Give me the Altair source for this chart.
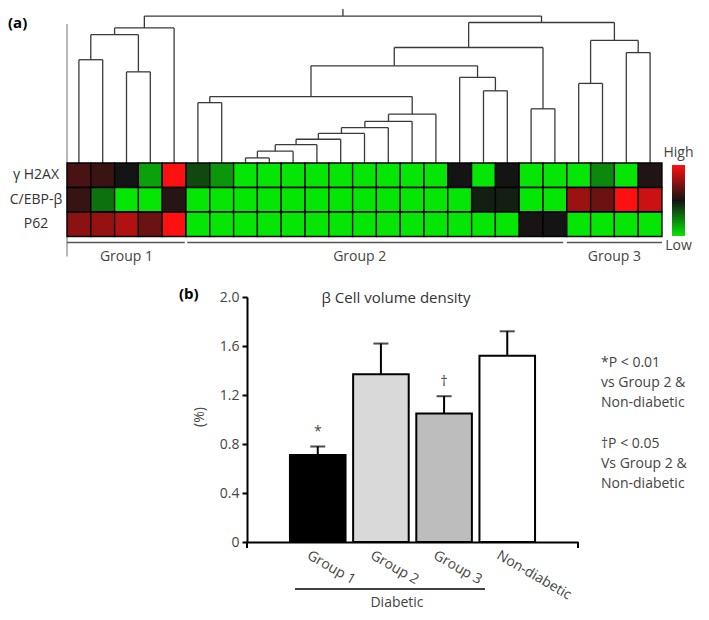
import altair as alt
import pandas as pd

FONT = "Open Sans"
TXT = "#333333"

# ---------------- Panel (a): heat map + dendrogram ----------------
rows = ["γ H2AX", "C/EBP-β", "P62"]
# relative expression per column (-1 = low/green, 0 = black, 1 = high/red)
h2ax = [0.23, 0.16, 0.0, -0.67, 1.0, -0.25, -0.62,
        -1, -1, -1, -1, -1, -1, -1, -1, -1,
        0.0, -1, 0.0, -1, -1, -1, -0.55, -1, 0.05]
cebp = [0.15, -0.45, -1, -1, 0.08,
        -1, -1, -1, -1, -1, -1, -1, -1, -1, -1, -1, -1,
        -0.05, -0.05, -1, -1, 0.58, 0.38, 1.0, 0.78]
p62 = [0.5, 0.55, 0.67, 0.38, 1.0,
       -1, -1, -1, -1, -1, -1, -1, -1, -1, -1, -1, -1, -1, -1,
       0.02, 0.0, -1, -1, -1, -1]
n_cols = 25

groups = ["Group 1", "Group 2", "Group 3"]
group_start = [0.0, 5.05, 21.0]
group_end = [4.95, 20.85, 25.0]
group_label_pos = [2.5, 12.3, 23.0]

# dendrogram merges (children are column indices or earlier nodes)
merge_node = ["A", "B", "C", "D", "E", "F", "G", "H", "I", "J", "K", "L",
              "M", "N", "O", "P", "Q", "R", "S", "T1", "T2", "T3", "T4", "root"]
merge_left = [7, "A", "B", "C", "D", "E", "F", "G", 5, "I", 17, 16,
              "J", 19, "M", 21, 23, "P", "O", 0, 2, "T1", "T3", "T4"]
merge_right = [8, 9, 10, 11, 12, 13, 14, 15, 6, "H", 18, "K",
               "L", 20, "N", 22, 24, "Q", "R", 1, 3, "T2", 4, "S"]
merge_height = [5.3, 12.3, 19.0, 24.7, 30.7, 36.7, 43.3, 50.7, 62.7, 69.0, 75.0, 89.0,
                101.0, 56.3, 120.0, 82.7, 114.7, 127.3, 146.0, 107.3, 94.7, 133.3, 140.3, 152.7]
DEND_TOP = 160

# ---------------- Panel (b): bar chart ----------------
cats = ["Group 1", "Group 2", "Group 3", "Non-diabetic"]
means = [0.71, 1.37, 1.05, 1.52]
sems = [0.07, 0.25, 0.14, 0.20]
fills = ["#000000", "#d9d9d9", "#bdbdbd", "#ffffff"]
sig = ["*", "", "†", ""]
notes = ["*P < 0.01", "vs Group 2 &", "Non-diabetic",
         "†P < 0.05", "Vs Group 2 &", "Non-diabetic"]
note_y = [66, 86, 106, 147, 167, 187]
y_ticks = [0, 0.4, 0.8, 1.2, 1.6, 2.0]

# ---------------- build tables ----------------
heat_df = pd.DataFrame(
    [{"row": r, "c0": c, "c1": c + 1, "v": vals[c]}
     for r, vals in zip(rows, [h2ax, cebp, p62]) for c in range(n_cols)]
)

pos = {i: (i + 0.5, 0.0) for i in range(n_cols)}
segs = []
for node, l, r, h in zip(merge_node, merge_left, merge_right, merge_height):
    xl, hl = pos[l]
    xr, hr = pos[r]
    segs.append((xl, hl, xl, h))
    segs.append((xr, hr, xr, h))
    segs.append((xl, h, xr, h))
    pos[node] = ((xl + xr) / 2, h)
rx, rh = pos["root"]
segs.append((rx, rh, rx, DEND_TOP))
seg_df = pd.DataFrame(segs, columns=["x0", "h0", "x1", "h1"])

grp_df = pd.DataFrame({"g": groups, "s": group_start, "e": group_end, "lx": group_label_pos})

W_A = 595
HEAT_H = 73.5

xs = alt.Scale(domain=[0, n_cols], nice=False, zero=False)
rowscale = alt.Scale(domain=rows, paddingInner=0, paddingOuter=0)
dscale = alt.Scale(domain=[0, DEND_TOP], range=[0, -154], nice=False, zero=False)

dend = alt.Chart(seg_df).mark_rule(color="#3a3a3a", strokeWidth=1.3).encode(
    x=alt.X("x0:Q", scale=xs, axis=None), x2="x1:Q",
    y=alt.Y("h0:Q", scale=dscale, axis=None), y2="h1:Q",
)

vline = alt.Chart(pd.DataFrame({"k": [0]})).mark_rule(color="#888888", strokeWidth=1.2).encode(
    x=alt.value(0), y=alt.value(-139), y2=alt.value(HEAT_H + 20)
)

a_lab = alt.Chart(pd.DataFrame({"t": ["(a)"]})).mark_text(
    align="left", baseline="middle", fontSize=15, fontWeight="bold", color="black", font=FONT
).encode(text="t:N", x=alt.value(-59), y=alt.value(-140))

heat = alt.Chart(heat_df).mark_rect(stroke="black", strokeWidth=1.3).encode(
    x=alt.X("c0:Q", scale=xs, axis=None), x2="c1:Q",
    y=alt.Y("row:N", scale=rowscale, axis=None),
    color=alt.Color(
        "v:Q",
        scale=alt.Scale(domain=[-1, 0, 1], range=["#05e605", "#141414", "#ff1010"], interpolate="rgb"),
        legend=alt.Legend(orient="none", legendX=W_A + 10, legendY=2, direction="vertical",
                          gradientLength=71, gradientThickness=13, labelOpacity=0,
                          labelExpr="''", title=None, gradientStrokeWidth=0),
    ),
)

row_lab = alt.Chart(pd.DataFrame({"row": rows})).mark_text(
    align="center", baseline="middle", fontSize=14, color=TXT, font=FONT
).encode(y=alt.Y("row:N", scale=rowscale, axis=None), text="row:N", x=alt.value(-31))

g_rule = alt.Chart(grp_df).mark_rule(color="#555555", strokeWidth=1.3).encode(
    x=alt.X("s:Q", scale=xs, axis=None), x2="e:Q", y=alt.value(HEAT_H + 6)
)
g_text = alt.Chart(grp_df).mark_text(fontSize=14, color="#444444", font=FONT, baseline="middle").encode(
    x=alt.X("lx:Q", scale=xs, axis=None), y=alt.value(HEAT_H + 20), text="g:N"
)
hilo = alt.Chart(pd.DataFrame({"t": ["High", "Low"], "yy": [-10, HEAT_H + 9.5]})).mark_text(
    fontSize=14, color="#444444", font=FONT, baseline="middle", align="center"
).encode(text="t:N", x=alt.value(W_A + 16.5), y=alt.Y("yy:Q", scale=None))

panel_a = alt.layer(dend, vline, a_lab, heat, row_lab, g_rule, g_text, hilo).resolve_scale(
    y="independent"
).properties(width=W_A, height=HEAT_H)

# ---------------- panel (b) ----------------
bar_df = pd.DataFrame({"cat": cats, "mean": means, "sem": sems, "sig": sig})
bar_df["upper"] = bar_df["mean"] + bar_df["sem"]

B_W = 511
B_H = 245
AX0 = 180

bx = alt.Scale(domain=cats, range=[AX0, B_W], paddingInner=0.12, paddingOuter=0.68)
by = alt.Scale(domain=[0, 2], nice=False, zero=True)

bars = alt.Chart(bar_df).mark_bar(stroke="black", strokeWidth=2).encode(
    x=alt.X("cat:N", scale=bx, title=None,
            axis=alt.Axis(labelAngle=30, labelAlign="left", labelBaseline="top", ticks=False,
                          labelPadding=6, labelOffset=-6, domainWidth=2, domainColor="black",
                          labelFontSize=14, labelColor="#444444", labelFont=FONT)),
    y=alt.Y("mean:Q", scale=by, title=None,
            axis=alt.Axis(values=y_ticks, offset=-AX0, grid=False, tickSize=5, tickWidth=2,
                          tickColor="black", domainWidth=2, domainColor="black",
                          labelFontSize=14, labelColor="#444444", labelFont=FONT, labelPadding=3,
                          labelExpr="datum.value == 0 ? '0' : format(datum.value, '.1f')")),
    color=alt.Color("cat:N", scale=alt.Scale(domain=cats, range=fills), legend=None),
)
err = alt.Chart(bar_df).mark_rule(color="black", strokeWidth=2).encode(
    x=alt.X("cat:N", scale=bx), y=alt.Y("mean:Q", scale=by), y2="upper:Q"
)
cap = alt.Chart(bar_df).mark_tick(color="black", thickness=2, size=15).encode(
    x=alt.X("cat:N", scale=bx), y=alt.Y("upper:Q", scale=by)
)
sig_t = alt.Chart(bar_df).mark_text(fontSize=14, dy=-14, color="#444444", font=FONT).encode(
    x=alt.X("cat:N", scale=bx), y=alt.Y("upper:Q", scale=by), text="sig:N"
)

def label(text, x, y, **kw):
    return alt.Chart(pd.DataFrame({"t": [text]})).mark_text(font=FONT, **kw).encode(
        text="t:N", x=alt.value(x), y=alt.value(y)
    )

b_title = label("β Cell volume density", 329, 1, fontSize=15, color="#333333", baseline="middle")
b_lab = label("(b)", 112, -3, fontSize=15, fontWeight="bold", color="black", align="left", baseline="middle")
pct = label("(%)", 133, 120, fontSize=14, color="#444444", angle=270, baseline="middle")
diab = label("Diabetic", 330, B_H + 61, fontSize=14, color="#444444", baseline="middle")

diab_rule = alt.Chart(pd.DataFrame({"k": [0]})).mark_rule(color="black", strokeWidth=1.5).encode(
    x=alt.value(228), x2=alt.value(418), y=alt.value(B_H + 47)
)
end_ticks = alt.Chart(pd.DataFrame({"xx": [AX0, B_W]})).mark_rule(color="black", strokeWidth=2).encode(
    x=alt.X("xx:Q", scale=None), y=alt.value(B_H), y2=alt.value(B_H + 6)
)
notes_t = alt.Chart(pd.DataFrame({"t": notes, "yy": note_y})).mark_text(
    fontSize=14, color="#444444", font=FONT, align="left", baseline="middle"
).encode(text="t:N", x=alt.value(534), y=alt.Y("yy:Q", scale=None))

panel_b = alt.layer(bars, err, cap, sig_t, b_title, b_lab, pct, diab, diab_rule, end_ticks, notes_t).properties(
    width=B_W, height=B_H
)

chart = alt.vconcat(panel_a, panel_b, spacing=60, bounds="flush").resolve_scale(
    x="independent", y="independent", color="independent"
).properties(padding=0).configure_view(stroke=None)

chart.save("out.html", embed_options={"renderer": "svg", "actions": False})
